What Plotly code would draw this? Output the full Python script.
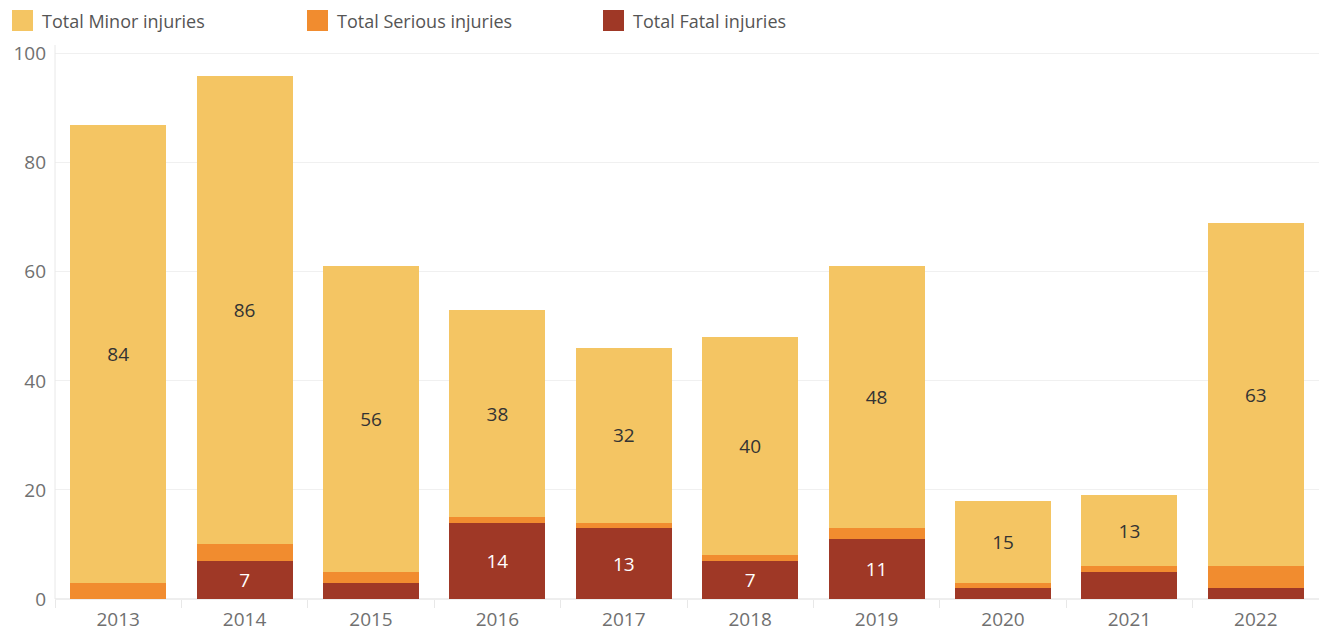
import plotly.graph_objects as go

years = ["2013", "2014", "2015", "2016", "2017", "2018", "2019", "2020", "2021", "2022"]
minor = [84, 86, 56, 38, 32, 40, 48, 15, 13, 63]
serious = [3, 3, 2, 1, 1, 1, 2, 1, 1, 4]
fatal = [0, 7, 3, 14, 13, 7, 11, 2, 5, 2]
series_names = ["Total Minor injuries", "Total Serious injuries", "Total Fatal injuries"]
colors = ["#F4C563", "#F18C2F", "#9F3826"]
label_min = 7

W, H = 1319, 632
ML, MR, MT, MB = 55, 0, 45, 33
FONT = "'Open Sans', sans-serif"

def labels(vals):
    return [str(v) if v >= label_min else "" for v in vals]

fig = go.Figure()
stack = [(fatal, series_names[2], colors[2], "white"),
         (serious, series_names[1], colors[1], "#333333"),
         (minor, series_names[0], colors[0], "#333333")]
for vals, name, col, tcol in stack:
    fig.add_trace(go.Bar(
        x=years, y=vals, name=name, marker=dict(color=col, line=dict(width=0)),
        text=labels(vals), textposition="inside", insidetextanchor="middle",
        textangle=0, constraintext="none",
        textfont=dict(family=FONT, size=19, color=tcol),
        showlegend=False, hoverinfo="x+y+name",
    ))

pw = W - ML - MR
ph = H - MT - MB
def px(x):
    return (x - ML) / pw
def py(y):
    return (H - MB - y) / ph

leg_x = [12, 307, 603]
for i, (nm, col) in enumerate(zip(series_names, colors)):
    x0 = leg_x[i]
    fig.add_shape(type="rect", xref="paper", yref="paper",
                  x0=px(x0), x1=px(x0 + 21), y0=py(31), y1=py(10),
                  fillcolor=col, line=dict(width=0))
    fig.add_annotation(xref="paper", yref="paper", x=px(x0 + 28), y=py(21),
                       text=nm, showarrow=False, xanchor="left", yanchor="middle",
                       font=dict(family=FONT, size=18, color="#555555"))

fig.add_shape(type="line", xref="paper", yref="paper", x0=0, x1=0, y0=0, y1=1,
              line=dict(color="#E8E8E8", width=1))

fig.update_layout(
    width=W, height=H,
    margin=dict(l=ML, r=MR, t=MT, b=MB, autoexpand=False),
    barmode="stack", bargap=0.24,
    plot_bgcolor="white", paper_bgcolor="white",
    font=dict(family=FONT, size=18, color="#666666"),
    xaxis=dict(type="category", showgrid=False, ticks="outside", tickson="boundaries",
               ticklen=8, tickcolor="#E8E8E8", showline=True, linecolor="#EEEEEE",
               tickfont=dict(size=19, color="#707070"), ticklabelstandoff=3,
               automargin=False),
    yaxis=dict(range=[0, 101.6], tickvals=[0, 20, 40, 60, 80, 100],
               showgrid=True, gridcolor="#F0F0F0", gridwidth=1,
               zeroline=True, zerolinecolor="#EEEEEE", ticks="",
               tickfont=dict(size=19, color="#707070"), ticklabelstandoff=8,
               automargin=False),
)

fig.write_html("out.html", config={"displayModeBar": False},
               post_script="document.body.style.margin='0';document.body.style.overflow='hidden';")
